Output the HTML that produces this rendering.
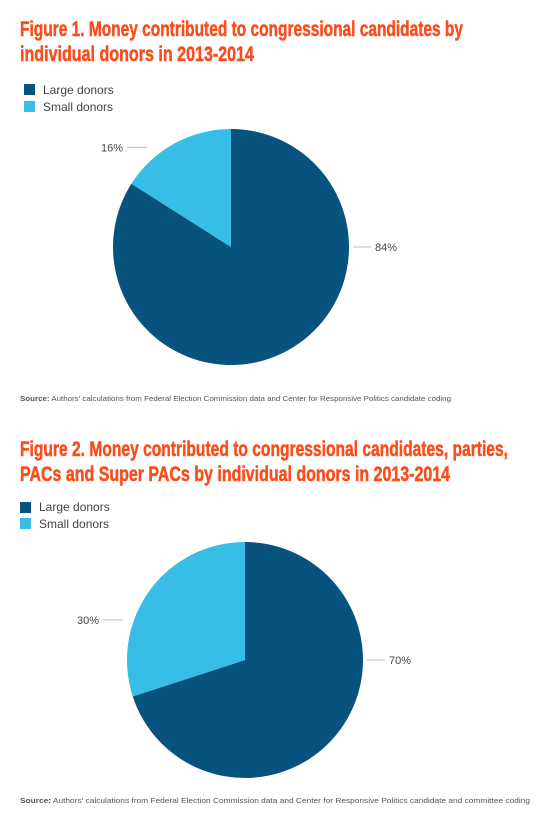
<!DOCTYPE html>
<html><head><meta charset="utf-8"><style>
html,body{margin:0;padding:0;background:#fff;}
svg{display:block;font-family:"Liberation Sans",sans-serif;}
</style></head><body>
<svg id="page" width="548" height="823" viewBox="0 0 548 823">
<g>
<text x="20" y="36" font-size="21" font-weight="900" fill="#fa4d1c" stroke="#fa4d1c" stroke-width="0.5" textLength="443" lengthAdjust="spacingAndGlyphs">Figure 1. Money contributed to congressional candidates by</text>
<text x="20" y="61" font-size="21" font-weight="900" fill="#fa4d1c" stroke="#fa4d1c" stroke-width="0.5" textLength="234" lengthAdjust="spacingAndGlyphs">individual donors in 2013-2014</text>
<rect x="24" y="84" width="11" height="11" fill="#08527e"/>
<text x="43" y="94" font-size="12" fill="#444">Large donors</text>
<rect x="24" y="101" width="11" height="11" fill="#38bde6"/>
<text x="43" y="111" font-size="12" fill="#444">Small donors</text>
<g id="pie1"></g>
<text x="20" y="401" font-size="7.5" fill="#555" textLength="431" lengthAdjust="spacingAndGlyphs"><tspan font-weight="bold">Source:</tspan> Authors' calculations from Federal Election Commission data and Center for Responsive Politics candidate coding</text>
</g>
<g>
<text x="20" y="456" font-size="21" font-weight="900" fill="#fa4d1c" stroke="#fa4d1c" stroke-width="0.5" textLength="488" lengthAdjust="spacingAndGlyphs">Figure 2. Money contributed to congressional candidates, parties,</text>
<text x="20" y="481" font-size="21" font-weight="900" fill="#fa4d1c" stroke="#fa4d1c" stroke-width="0.5" textLength="430" lengthAdjust="spacingAndGlyphs">PACs and Super PACs by individual donors in 2013-2014</text>
<rect x="20" y="502" width="11" height="11" fill="#08527e"/>
<text x="39" y="511" font-size="12" fill="#444">Large donors</text>
<rect x="20" y="518" width="11" height="11" fill="#38bde6"/>
<text x="39" y="528" font-size="12" fill="#444">Small donors</text>
<g id="pie2"></g>
<text x="20" y="803" font-size="7.5" fill="#555" textLength="510" lengthAdjust="spacingAndGlyphs"><tspan font-weight="bold">Source:</tspan> Authors' calculations from Federal Election Commission data and Center for Responsive Politics candidate and committee coding</text>
</g>
</svg>
<script>
const categories = ["Large donors", "Small donors"];
const fig1Values = [84, 16];
const fig2Values = [70, 30];
const colors = ["#08527e", "#38bde6"];
const NS = "http://www.w3.org/2000/svg";
function drawPie(gid, values, cx, cy, r) {
  const g = document.getElementById(gid);
  const total = values.reduce((a, b) => a + b, 0);
  let start = 0;
  values.forEach((v, i) => {
    const a0 = start / total * 2 * Math.PI, a1 = (start + v) / total * 2 * Math.PI;
    start += v;
    const x0 = cx + r * Math.sin(a0), y0 = cy - r * Math.cos(a0);
    const x1 = cx + r * Math.sin(a1), y1 = cy - r * Math.cos(a1);
    const large = (a1 - a0) > Math.PI ? 1 : 0;
    const p = document.createElementNS(NS, "path");
    p.setAttribute("d", `M${cx},${cy} L${x0},${y0} A${r},${r} 0 ${large} 1 ${x1},${y1} Z`);
    p.setAttribute("fill", colors[i]);
    
    
    g.appendChild(p);
    // label placement: the big slice label sits at the right at centre height,
    // the small slice label on the left at a height derived from its share
    let ly, ex, lx2, right;
    if (v / total >= 0.5) {
      right = true; ly = cy; ex = cx + r + 4; lx2 = ex + 18;
    } else {
      right = false;
      const frac = v / total;
      ly = cy - r * (0.34 + (0.30 - frac) * 3.6);
      ex = cx - r + 20 - (0.30 - frac) * 0;
      ex = (frac < 0.2) ? cx - r + 34 : cx - r - 4;
      lx2 = ex - 20;
    }
    const ln = document.createElementNS(NS, "line");
    ln.setAttribute("x1", ex); ln.setAttribute("y1", ly);
    ln.setAttribute("x2", lx2); ln.setAttribute("y2", ly);
    ln.setAttribute("stroke", "#bbb"); ln.setAttribute("stroke-width", "1");
    
    
    g.appendChild(ln);
    const t = document.createElementNS(NS, "text");
    t.setAttribute("x", lx2 + (right ? 4 : -4));
    t.setAttribute("y", ly + 4);
    t.setAttribute("font-size", "11");
    t.setAttribute("fill", "#444");
    t.setAttribute("text-anchor", right ? "start" : "end");
    t.textContent = v + "%";
    
    
    g.appendChild(t);
  });
}
drawPie("pie1", fig1Values, 231, 247, 118);
drawPie("pie2", fig2Values, 245, 660, 118);
</script>
</body></html>
